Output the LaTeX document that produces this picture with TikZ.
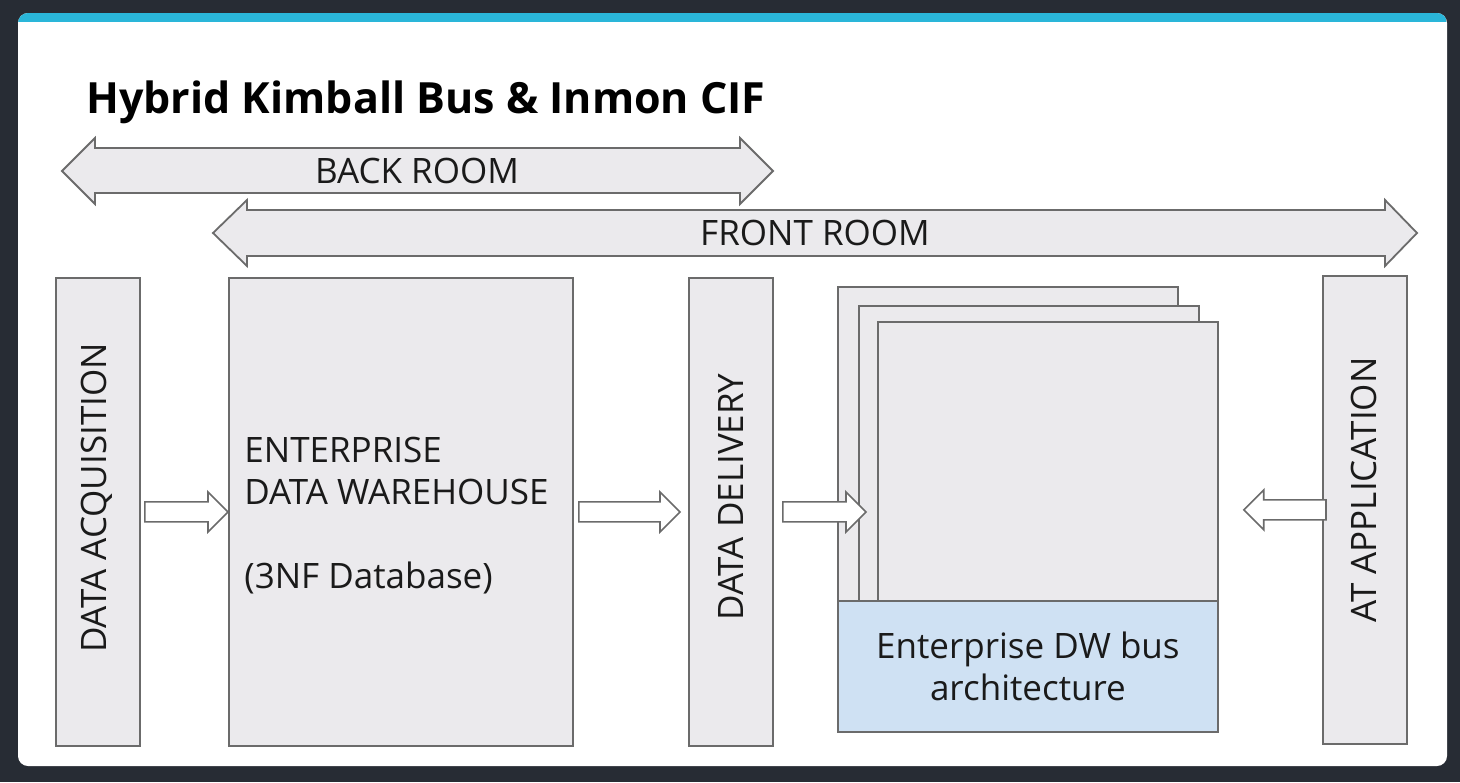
\documentclass[tikz,border=0pt]{standalone}
\usepackage{fontspec}
\setmainfont{Open Sans}
\usetikzlibrary{calc,positioning}

\definecolor{slate}{HTML}{272C34}
\definecolor{strip}{HTML}{2AB6D9}
\definecolor{panel}{HTML}{EBEAED}
\definecolor{edge}{HTML}{6B6B6B}
\definecolor{busblue}{HTML}{CFE1F3}
\definecolor{ink}{HTML}{1A1A1A}

% hollow block arrow between two points on one height
\newcommand{\flowarrow}[2]{%
  \draw[flow] let \p1=(#1), \p2=(#2), \p3=($(#2)!10pt!(#1)$) in
    (\x1,\y1+5pt) -- (\x3,\y1+5pt) -- (\x3,\y1+10pt) -- (\x2,\y1)
    -- (\x3,\y1-10pt) -- (\x3,\y1-5pt) -- (\x1,\y1-5pt) -- cycle;}

\begin{document}
\begin{tikzpicture}
[x=0.5pt, y=-0.5pt,
box/.style={draw=edge, fill=panel, line width=0.9pt, inner sep=0pt, anchor=north west},
bus/.style={box, fill=busblue},
room/.style={draw=edge, fill=panel, line width=0.9pt, line join=miter},
flow/.style={draw=edge, fill=white, line width=0.8pt, line join=miter},
boxtext/.style={text=ink, inner sep=0pt, font=\fontsize{17.5}{21}\selectfont}]
% backdrop and card
\fill[slate] (0,0) rectangle (1460,782);
\fill[white, rounded corners=5pt] (18,13) rectangle (1447,766);
\begin{scope}
\clip[rounded corners=5pt] (18,13) rectangle (1447,766);
\fill[strip] (18,13) rectangle (1447,22);
\end{scope}
\node[anchor=base west, text=black, inner sep=0pt, font=\bfseries\fontsize{21.5}{25}\selectfont] (title) at (86,113) {Hybrid Kimball Bus \& Inmon CIF};
% rooms
\draw[room] (62,171) -- (95,138) -- (95,148) -- (740,148) -- (740,138) -- (773,171) -- (740,204) -- (740,193) -- (95,193) -- (95,204) -- cycle;
\node[boxtext] (back) at (417,171) {BACK ROOM};
\draw[room] (213,233) -- (247,200) -- (247,210) -- (1385,210) -- (1385,200) -- (1417,233) -- (1385,266) -- (1385,256) -- (247,256) -- (247,266) -- cycle;
\node[boxtext] (front) at (815,233) {FRONT ROOM};
% columns
\node[box, minimum width=42pt, minimum height=234pt] (acq) at (55,277) {};
\node[box, minimum width=172pt, minimum height=234pt] (edw) at (228,277) {};
\node[box, minimum width=42pt, minimum height=234pt] (delivery) at (688,277) {};
\node[box, minimum width=42pt, minimum height=234pt] (app) at (1322,275) {};
\node[boxtext, rotate=90] (acqtext) at (97,498) {DATA ACQUISITION};
\node[boxtext, rotate=90] (deliverytext) at (731,497) {DATA DELIVERY};
\node[boxtext, rotate=90] (apptext) at (1364,490) {AT APPLICATION};
\node[boxtext, anchor=north west, align=left] (edwtext) at (244,437) {ENTERPRISE\\DATA WAREHOUSE\\[21pt](3NF Database)};
% data marts
\node[box, minimum width=170pt, minimum height=192pt] (mart1) at (837,286) {};
\node[box, minimum width=170pt, minimum height=192pt] (mart2) at (858,305) {};
\node[box, minimum width=170pt, minimum height=192pt] (mart3) at (877,321) {};
\node[bus, minimum width=190pt, minimum height=65.5pt] (busarch) at (837,600) {};
\node[boxtext, align=center] (bustext) at (busarch.center) {Enterprise DW bus\\architecture};
% flows
\flowarrow{[xshift=2pt]acq.east}{edw.west}
\flowarrow{[xshift=2.5pt]edw.east}{[xshift=-4pt]delivery.west}
\flowarrow{[xshift=4.5pt]delivery.east}{[xshift=-5.5pt]mart3.west}
\flowarrow{[xshift=2pt]app.west}{[xshift=12.5pt]mart3.east}
\end{tikzpicture}
\end{document}
